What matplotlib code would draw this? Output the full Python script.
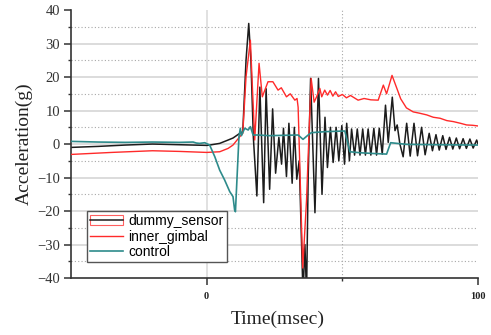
import matplotlib
matplotlib.use('Agg')
import matplotlib.pyplot as plt
import matplotlib.patches as mpatches
from matplotlib.lines import Line2D
from matplotlib.legend_handler import HandlerTuple
from matplotlib.ticker import MultipleLocator

# values (time in msec, acceleration in g)
dummy_t = [-50, -40, -30, -20, -10, 0, 1.1, 4.8, 7.9, 9.7, 12.2, 13.3, 14.5, 15.5,
           16.3, 17.2, 18.5, 19.6, 21.0, 21.9, 23.2, 24.3, 25.4, 26.6, 27.6, 28.3,
           29.4, 30.3, 31.5, 32.3, 33.2, 34.1, 35.5, 36.2, 36.8, 37.4, 38.3, 39.9,
           41.2, 42.5, 43.6, 44.5, 45.6, 46.6, 47.7, 48.7, 49.8, 50.8, 51.6, 52.6,
           53.4, 54.5, 55.5, 56.5, 57.5, 58.5, 59.5, 60.5, 61.6, 62.6, 63.6, 64.7,
           65.9, 66.9, 68.4, 69.4, 70.2, 71.2, 72.4, 73.7, 75.0, 76.4, 77.7, 79.2,
           80.5, 82.0, 83.2, 84.5, 85.7, 87.0, 88.2, 89.5, 90.7, 92.0, 93.2, 94.5,
           95.7, 97.0, 98.2, 99.5, 100]
dummy_g = [-1.0, -0.7, -0.3, 0.0, -0.2, -0.4, -0.3, 0.2, 1.2, 1.8, 3.2, 3.7, 25.0, 36.0,
           25.0, 2.0, -15.5, 17.0, -17.5, 16.5, -13.5, 10.5, -8.7, 2.0, -6.0, 4.7,
           -9.7, 6.2, -11.7, 5.0, -10.5, -5.0, -45.0, -30.0, -45.0, -10.0, 19.6, -20.5,
           19.6, -15.0, 8.0, -7.0, 5.0, -5.5, 5.0, -5.0, 5.5, -6.0, 6.2, -5.0,
           4.5, -3.3, 4.5, -3.3, 4.5, -3.3, 4.5, -3.3, 4.7, -3.3, 4.7, -3.0,
           11.6, 0.5, 14.0, 4.0, 5.7, 0.0, -3.8, 6.2, -3.6, 6.2, -3.5, 5.0,
           -3.2, 3.2, -2.0, 2.8, -1.8, 2.5, -1.6, 2.0, -1.5, 1.8, -1.4, 1.6,
           -1.3, 1.5, -1.2, 1.2, 0.0]

gimbal_t = [-50, -35, -20, -10, 0, 4.8, 7.9, 9.7, 12.2, 13.3, 14.5, 16.1, 17.7, 19.3,
            20.5, 22.6, 24.4, 26.3, 27.5, 29.4, 30.8, 32.5, 33.3, 33.7, 35.4, 36.8,
            37.8, 38.5, 39.6, 40.5, 41.7, 42.4, 43.5, 44.5, 45.5, 46.5, 47.5, 48.5,
            50.0, 51.5, 53.0, 55.8, 58.0, 60.5, 63.2, 65.1, 66.3, 68.3, 70.0, 71.5,
            73.6, 76.1, 78.5, 81.1, 83.5, 86.0, 88.5, 90.9, 93.5, 95.8, 98.0, 100]
gimbal_g = [-3.1, -2.5, -2.0, -2.2, -2.5, -2.3, -1.3, -0.3, 2.2, 3.2, 20.0, 31.0, 1.2, 24.1,
            14.1, 18.6, 18.6, 16.1, 16.8, 14.1, 15.0, 13.1, 13.6, 11.0, -37.0, -16.7,
            5.2, 19.6, 12.5, 14.1, 16.6, 14.1, 16.1, 14.6, 16.0, 14.3, 15.6, 14.2,
            14.8, 13.8, 14.5, 13.1, 13.6, 13.2, 13.1, 17.6, 15.0, 20.5, 16.8, 13.5,
            10.8, 9.6, 9.2, 8.7, 8.0, 7.7, 7.0, 6.7, 6.2, 5.7, 5.6, 5.4]

control_t = [-50, -40, -30, -20, -10, -5, -3.8, -2.6, -0.7, 1.1, 3.0, 4.8, 6.6, 8.5,
             9.7, 10.3, 10.6, 11.2, 11.9, 12.4, 12.8, 14.0, 15.3, 16.1, 17.1, 19.0,
             23.0, 28.0, 33.7, 35.5, 37.4, 38.6, 43.7, 50.9, 52.8, 56.5, 61.0, 66.3,
             67.8, 73.7, 85.0, 100]
control_g = [0.8, 0.6, 0.5, 0.6, 0.5, 0.6, 0.3, 0.2, 0.4, -0.3, -3.8, -7.8, -10.7, -14.2,
             -15.7, -19.7, -20.2, -9.8, 2.2, 4.7, 2.5, 4.7, 4.2, 5.2, 2.7, 2.7,
             2.5, 2.6, 2.7, 1.4, 2.7, 3.4, 3.7, 3.9, -2.3, -2.6, -2.8, -3.0,
             0.4, -0.1, -0.2, -0.3]

y_major = list(range(-40, 41, 10))
x_major = [0, 100]
x_minor = [50]

serif = 'Liberation Serif'
dark = '#333333'

fig = plt.figure(figsize=(4.91, 3.35), dpi=100)
ax = fig.add_axes([0.1446, 0.170, 0.829, 0.800])

# grid: solid at every 10 g, dotted at the 5 g in between
for v in range(-30, 31, 10):
    ax.axhline(v, color='#dcdcdc', lw=1.4, zorder=0)
for v in range(-35, 36, 10):
    ax.axhline(v, color='#a8a8a8', lw=0.8, ls=(0, (1, 2)), zorder=0)
ax.axvline(0, color='#dcdcdc', lw=1.2, zorder=0)
ax.axvline(50, color='#a8a8a8', lw=0.8, ls=(0, (1, 2)), zorder=0)

ax.plot(dummy_t, dummy_g, color='#1c1c1c', lw=1.1, zorder=2)
ax.plot(gimbal_t, gimbal_g, color='#ff2a2a', lw=1.0, zorder=3)
ax.plot(control_t, control_g, color='#2e8b8b', lw=1.2, zorder=4)

ax.set_xlim(-50, 100)
ax.set_ylim(-40, 40)
ax.set_yticks(y_major)
ax.yaxis.set_minor_locator(MultipleLocator(5))
ax.set_xticks(x_major)
ax.set_xticks(x_minor, minor=True)

for s in ['top', 'right']:
    ax.spines[s].set_visible(False)
for s in ['left', 'bottom']:
    ax.spines[s].set_color(dark)
    ax.spines[s].set_linewidth(1.2)

ax.tick_params(which='major', direction='out', length=5, width=1.1, color=dark)
ax.tick_params(which='minor', direction='out', length=2.5, width=1.0, color=dark)
ax.tick_params(axis='y', pad=3)
ax.tick_params(axis='x', pad=5)
for lab in ax.get_yticklabels():
    lab.set_fontfamily(serif)
    lab.set_fontsize(10.5)
    lab.set_color(dark)
for lab in ax.get_xticklabels():
    lab.set_fontfamily(serif)
    lab.set_fontsize(7.5)
    lab.set_fontweight('bold')
    lab.set_color('#222222')

ax.set_ylabel('Acceleration(g)', fontsize=14, family=serif, color='#222222')
ax.set_xlabel('Time(msec)', fontsize=14, family=serif, color='#222222')
ax.yaxis.set_label_coords(-0.095, 0.5)
ax.xaxis.set_label_coords(0.508, -0.12)

h_dummy = (mpatches.Patch(facecolor='none', edgecolor='#ff6060', lw=0.8),
           Line2D([], [], color='#1c1c1c', lw=1.1))
h_gimbal = Line2D([], [], color='#ff2a2a', lw=1.0)
h_control = Line2D([], [], color='#2e8b8b', lw=1.2)
leg = ax.legend([h_dummy, h_gimbal, h_control],
                ['dummy_sensor', 'inner_gimbal', 'control'],
                handler_map={tuple: HandlerTuple(ndivide=1)},
                loc='lower left', bbox_to_anchor=(0.039, 0.06), borderaxespad=0,
                prop={'family': 'Liberation Sans', 'size': 10},
                fancybox=False, framealpha=1, edgecolor='#555555',
                borderpad=0.2, labelspacing=0.12, handlelength=2.4,
                handletextpad=0.4)
leg.get_frame().set_linewidth(1.0)
leg.set_zorder(5)

fig.savefig('out.png', dpi=100)
